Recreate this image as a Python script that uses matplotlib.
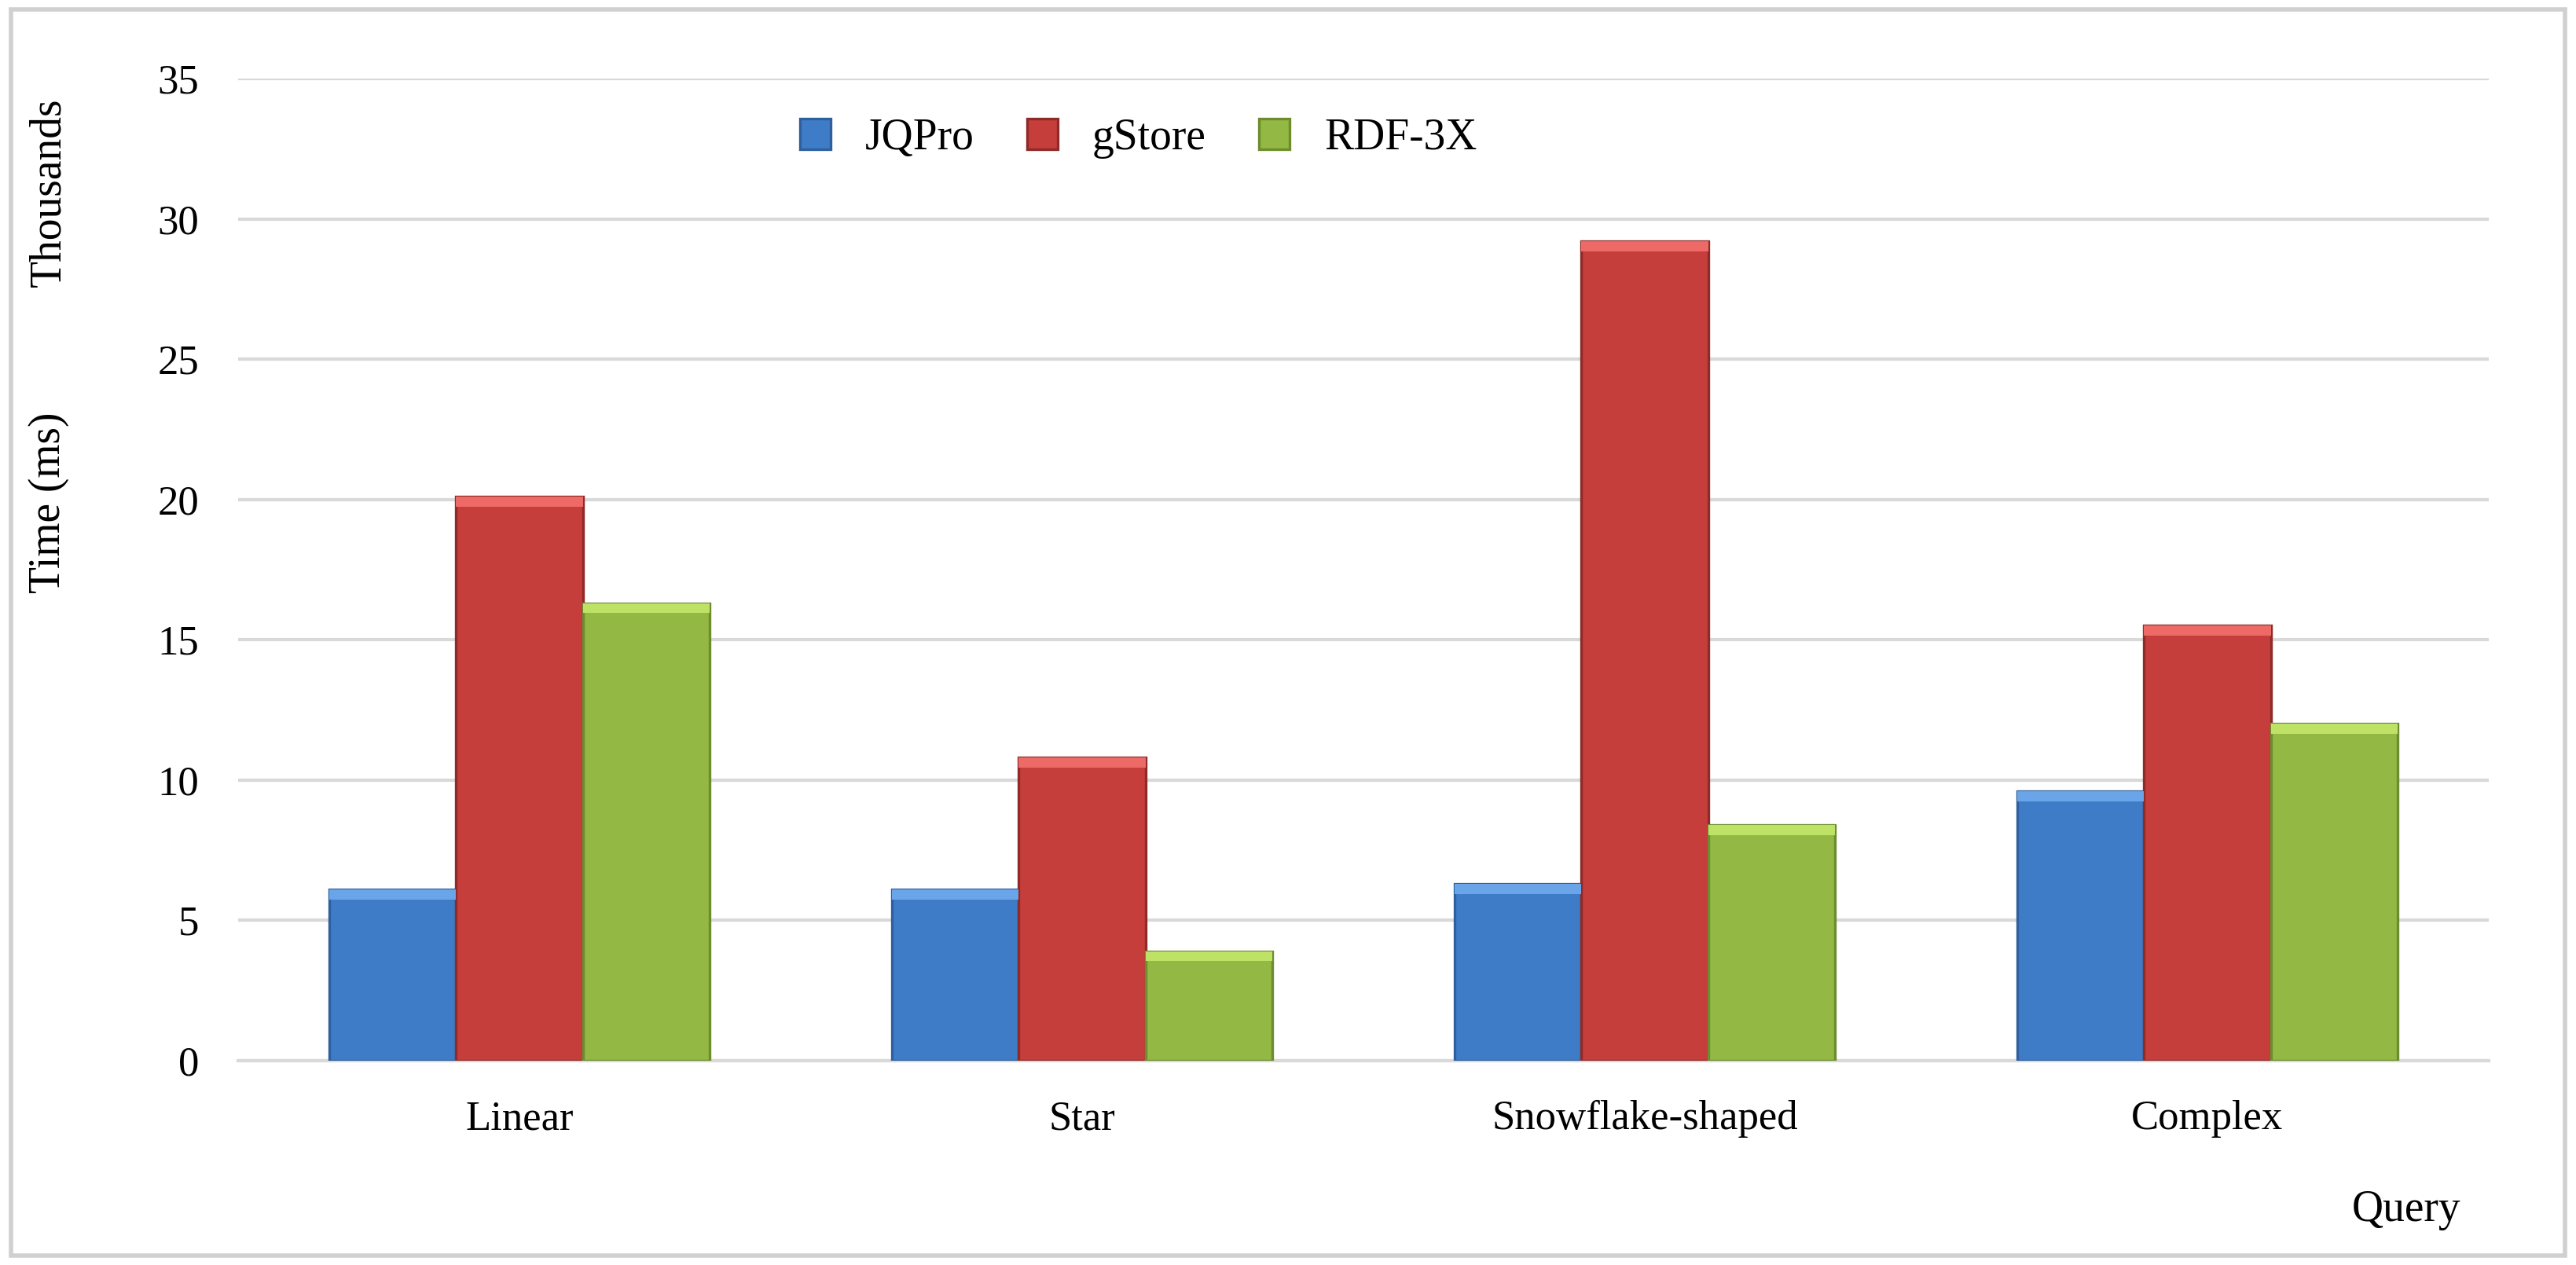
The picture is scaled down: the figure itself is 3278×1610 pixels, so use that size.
import matplotlib
matplotlib.use("Agg")
import matplotlib.pyplot as plt
from matplotlib.patches import Rectangle
import numpy as np

categories = ["Linear", "Star", "Snowflake-shaped", "Complex"]
series = ["JQPro", "gStore", "RDF-3X"]
jqpro = [6.1, 6.1, 6.3, 9.6]
gstore = [20.1, 10.8, 29.2, 15.5]
rdf3x = [16.3, 3.9, 8.4, 12.0]
yticks = [0, 5, 10, 15, 20, 25, 30, 35]

plt.rcParams['font.family'] = ['Liberation Serif', 'DejaVu Serif']
fig = plt.figure(figsize=(16.39, 8.05), dpi=200)
ax = fig.add_axes([303/3278, 1-1350/1610, (3167-303)/3278, (1350-100)/1610])

colors = ["#3F7CC8", "#C63E3B", "#93B843"]
edges = ["#2E5F9E", "#8E2A28", "#6E8C2F"]
tops = ["#6AA5EA", "#EE6A66", "#BEE266"]
x = np.arange(len(categories))
w = 0.225
for i, (vals, c, e, t, name) in enumerate(zip([jqpro, gstore, rdf3x], colors, edges, tops, series)):
    pos = x + (i - 1) * w
    ax.bar(pos, vals, w, color=c, edgecolor=e, linewidth=1.2, label=name, zorder=3)
    ax.bar(pos, [0.35]*len(vals), w, bottom=np.array(vals)-0.35, color=t, linewidth=0, zorder=4)

ax.set_xlim(-0.5, 3.5)
ax.set_ylim(0, 35)
ax.set_yticks(yticks)
ax.set_xticks(x)
ax.set_xticklabels(categories)
ax.tick_params(labelsize=19, length=0, pad=18)
ax.yaxis.grid(True, color="#D9D9D9", linewidth=1.5, zorder=0)
for s in ["top", "right", "left"]:
    ax.spines[s].set_visible(False)
ax.spines["bottom"].set_color("#D9D9D9")
ax.spines["bottom"].set_linewidth(1.5)

fig.text(62/3278, 1-640/1610, "Time (ms)", rotation=90, fontsize=20, ha="center", va="center")
fig.text(62/3278, 1-245/1610, "Thousands", rotation=90, fontsize=20, ha="center", va="center")
fig.text(3062/3278, 1-1540/1610, "Query", fontsize=20, ha="center", va="center")

ax.legend(loc="upper center", bbox_to_anchor=(0.4, 1.0), ncol=3, frameon=False,
          fontsize=20, handlelength=0.7, handleheight=0.7, columnspacing=1.2)

fig.patches.append(Rectangle((14/3278, 12/1610), 1-28/3278, 1-24/1610, transform=fig.transFigure,
                             fill=False, edgecolor="#D0D0D0", linewidth=2))
fig.savefig("out.png", dpi=200)
